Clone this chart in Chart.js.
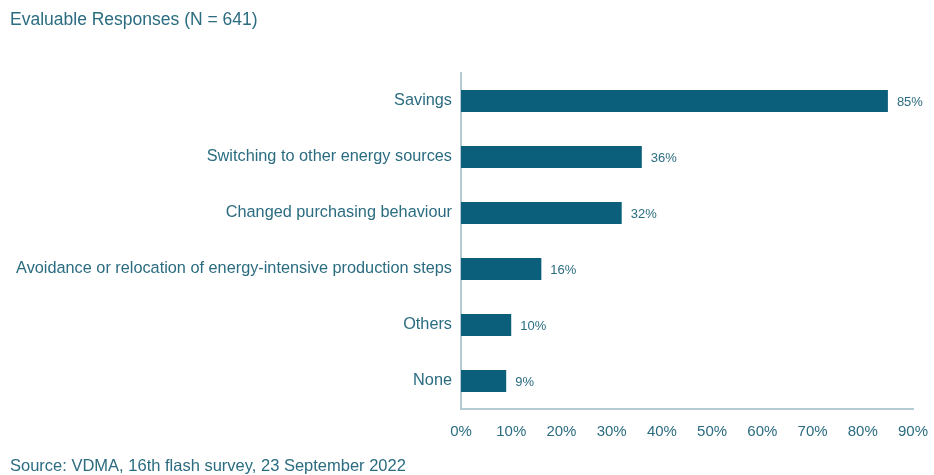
<!DOCTYPE html>
<html><head><meta charset="utf-8">
<script src="https://cdn.jsdelivr.net/npm/chart.js@4"></script>
<style>html,body{margin:0;padding:0;background:#fff}#wrap{width:934px;height:475px;position:relative}</style>
</head><body><div id="wrap"><canvas id="c" width="934" height="475"></canvas></div>
<script>
const categories = ["Savings","Switching to other energy sources","Changed purchasing behaviour","Avoidance or relocation of energy-intensive production steps","Others","None"];
const values = [85,36,32,16,10,9];
const tickValues = [0,10,20,30,40,50,60,70,80,90];
const titleText = "Evaluable Responses (N = 641)";
const sourceText = "Source: VDMA, 16th flash survey, 23 September 2022";

const textColor = "#2b6c80";
const barColor = "#0b5f7a";
const axisColor = "#b3ccd4";
const FONT = "'Liberation Sans', Arial, sans-serif";

const extras = {
  id: 'extras',
  afterDraw(chart) {
    const ctx = chart.ctx;
    ctx.save();
    ctx.fillStyle = textColor;
    ctx.textBaseline = 'middle';
    ctx.textAlign = 'left';
    ctx.font = "17.5px " + FONT;
    ctx.fillText(titleText, 10, 20);
    ctx.font = "16.5px " + FONT;
    ctx.fillText(sourceText, 10, 466);
    // value labels
    const meta = chart.getDatasetMeta(0);
    ctx.font = "13px " + FONT;
    meta.data.forEach((bar, i) => {
      ctx.fillText(values[i] + "%", bar.x + 9, bar.y + 1);
    });
    ctx.restore();
  }
};

new Chart(document.getElementById('c'), {
  type: 'bar',
  data: { labels: categories, datasets: [{ data: values, backgroundColor: barColor, barPercentage: 0.78, categoryPercentage: 0.5 }] },
  options: {
    indexAxis: 'y',
    responsive: false,
    animation: false,
    layout: { padding: { top: 73, right: 21, left: 0, bottom: 0 } },
    plugins: { legend: { display: false }, tooltip: { enabled: false } },
    scales: {
      x: {
        min: 0, max: 90,
        afterBuildTicks: s => { s.ticks = tickValues.map(v => ({ value: v })); },
        afterFit: s => { s.height = 66; s.paddingRight = 0; s.paddingLeft = 0; },
        grid: { display: false, drawTicks: false },
        border: { display: true, color: axisColor, width: 2 },
        ticks: { color: textColor, font: { family: FONT, size: 15 }, padding: 14, callback: v => v + "%" }
      },
      y: {
        afterFit: s => { s.width = 461; s.paddingTop = 0; s.paddingBottom = 0; },
        grid: { display: false, drawTicks: false },
        border: { display: true, color: axisColor, width: 2 },
        ticks: { color: textColor, font: { family: FONT, size: 16.3 }, padding: 9 }
      }
    }
  },
  plugins: [extras]
});
</script></body></html>
